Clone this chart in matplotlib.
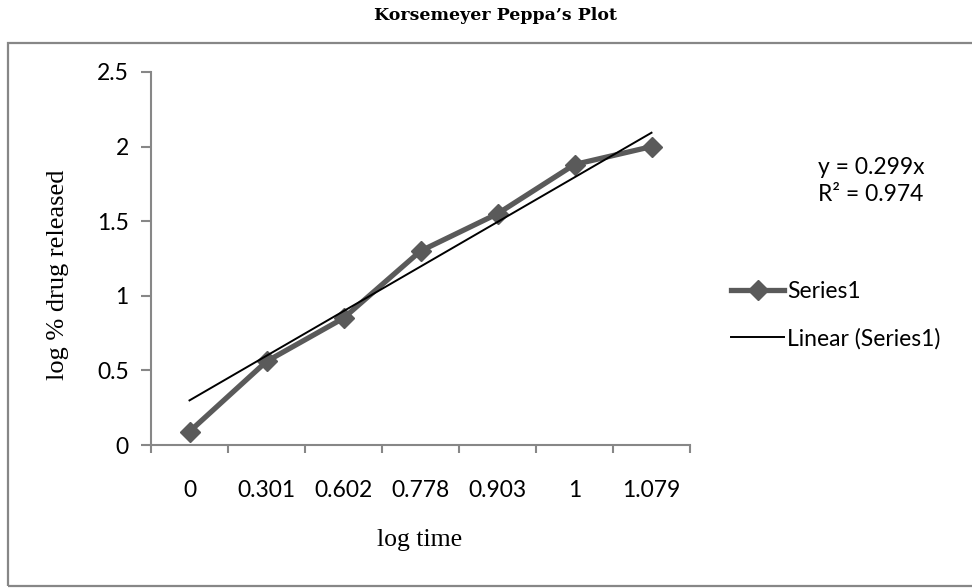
import matplotlib
matplotlib.use("Agg")
import matplotlib.pyplot as plt
from matplotlib.patches import Rectangle
import numpy as np

categories = ["0", "0.301", "0.602", "0.778", "0.903", "1", "1.079"]
log_release = [0.09, 0.56, 0.85, 1.30, 1.55, 1.88, 2.00]
trend_slope = 0.299
eq_text = "y = 0.299x\nR² = 0.974"
y_ticks = [0, 0.5, 1, 1.5, 2, 2.5]
y_tick_labels = ["0", "0.5", "1", "1.5", "2", "2.5"]

W, H = 972, 588
fig = plt.figure(figsize=(W / 100, H / 100), dpi=100)

def fx(px):
    return px / W

def fy(py):
    return 1 - py / H

# outer chart frame
frame = Rectangle((fx(8), fy(586)), 1.2, fy(43) - fy(586), transform=fig.transFigure,
                  fill=False, edgecolor="#878787", linewidth=1.6, zorder=0)
fig.patches.append(frame)

ax = fig.add_axes([fx(151), fy(445), fx(690) - fx(151), fy(72) - fy(445)])
ax.set_facecolor("none")

x = np.arange(1, len(categories) + 1)
ax.plot(x, log_release, color="#5a5a5a", linewidth=3.8, marker="D", markersize=10,
        markeredgecolor="#5a5a5a", markerfacecolor="#5a5a5a", label="Series1", zorder=3)
ax.plot(x, trend_slope * x, color="black", linewidth=1.4, label="Linear (Series1)", zorder=4)

ax.set_xlim(0.5, len(categories) + 0.5)
ax.set_ylim(0, 2.5)

LS = 16.5
ax.set_xticks(np.arange(0.5, len(categories) + 1, 1.0))
ax.set_xticklabels([])
ax.set_xticks(x, minor=True)
ax.set_xticklabels(categories, minor=True)
ax.tick_params(axis="x", which="major", direction="out", length=6, width=1.5, color="#878787")
ax.tick_params(axis="x", which="minor", length=0, pad=25, labelsize=LS)

ax.set_yticks(y_ticks)
ax.set_yticklabels(y_tick_labels)
ax.tick_params(axis="y", direction="out", length=7, width=1.5, color="#878787",
               pad=9, labelsize=LS)

for lbl in ax.get_xticklabels(minor=True) + ax.get_yticklabels():
    lbl.set_fontfamily("Lato")

for s in ["top", "right"]:
    ax.spines[s].set_visible(False)
for s in ["left", "bottom"]:
    ax.spines[s].set_color("#878787")
    ax.spines[s].set_linewidth(1.5)

fig.text(fx(58), fy(275), "log % drug released", rotation=90, ha="center", va="center",
         family="Liberation Serif", fontsize=19)
fig.text(fx(420), fy(540), "log time", ha="center", va="center",
         family="Liberation Serif", fontsize=18.5)
fig.text(fx(495), fy(15), "Korsemeyer Peppa\u2019s Plot", ha="center", va="center",
         family="DejaVu Serif", fontweight="bold", fontsize=12.5)

fig.text(fx(818), fy(181), eq_text, ha="left", va="center", family="Lato",
         fontsize=LS, linespacing=1.4)

leg = ax.legend(loc="center left", bbox_to_anchor=(fx(722), fy(315)),
                bbox_transform=fig.transFigure, frameon=False,
                prop={"family": "Lato", "size": LS}, handlelength=2.3,
                handletextpad=0.15, labelspacing=1.15, borderaxespad=0)

fig.savefig("out.png", dpi=100)
